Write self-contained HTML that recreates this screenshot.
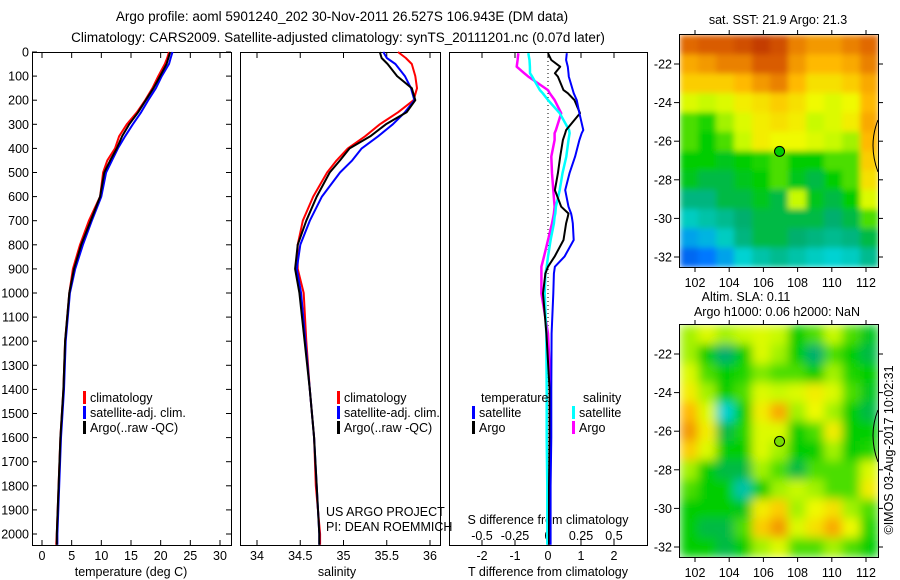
<!DOCTYPE html>
<html><head><meta charset="utf-8"><style>
html,body{margin:0;padding:0;background:#fff;}
svg{display:block;font-family:"Liberation Sans",sans-serif;}
text{font-size:12.5px;fill:#000;}
</style></head><body>
<svg id="c" width="900" height="580" viewBox="0 0 900 580">
<defs>
<filter id="blr-sst-map" x="-5%" y="-5%" width="110%" height="110%"><feGaussianBlur stdDeviation="3" edgeMode="duplicate"/></filter>
<filter id="blr-sla-map" x="-5%" y="-5%" width="110%" height="110%"><feGaussianBlur stdDeviation="5" edgeMode="duplicate"/></filter>
<clipPath id="clipTop"><rect x="680" y="35" width="198" height="232"/></clipPath>
<clipPath id="clipBot"><rect x="680" y="325" width="198" height="232"/></clipPath>
</defs>
<text x="342" y="21" text-anchor="middle" style="font-size:13.5px">Argo profile: aoml 5901240_202 30-Nov-2011 26.527S 106.943E (DM data)</text>
<text x="338" y="42" text-anchor="middle" style="font-size:13.5px">Climatology: CARS2009. Satellite-adjusted climatology: synTS_20111201.nc (0.07d later)</text>
<text x="778" y="24" text-anchor="middle">sat. SST: 21.9 Argo: 21.3</text>
<text x="746" y="301" text-anchor="middle">Altim. SLA: 0.11</text>
<text x="777" y="316" text-anchor="middle">Argo h1000: 0.06 h2000: NaN</text>
<text transform="translate(893,450) rotate(-90)" text-anchor="middle">©IMOS 03-Aug-2017 10:02:31</text>
<g id="g"></g>
</svg>
<script>
// ---------- data ----------
const depthTicks=[0,100,200,300,400,500,600,700,800,900,1000,1100,1200,1300,1400,1500,1600,1700,1800,1900,2000];
const tempTicks=[0,5,10,15,20,25,30];
const salTicks=[34,34.5,35,35.5,36];
const tdTicks=[-2,-1,0,1,2];
const sdTicks=[-0.5,-0.25,0,0.25,0.5];
const sdTickLabels=["-0.5","-0.25","0","0.25","0.5"];
const profDepths=[0,25,50,100,150,200,250,300,350,400,450,500,600,700,800,900,1000,1200,1400,1600,1800,2000,2045];
const tempClim=[21.4,21.1,20.7,19.6,18.6,17.4,16.0,14.3,13.0,12.3,11.0,10.3,9.8,7.9,6.4,5.2,4.6,3.9,3.6,3.1,2.8,2.5,2.4];
const tempSat=[22.0,21.7,21.4,20.2,19.2,17.9,16.7,15.3,14.0,12.8,11.8,10.8,10.0,8.4,6.9,5.6,4.7,4.0,3.7,3.2,2.9,2.6,2.6];
const tempArgo=[21.6,21.3,21.0,19.9,18.8,17.5,16.2,14.7,13.5,12.6,11.5,10.5,9.8,8.2,6.6,5.4,4.6,3.9,3.6,3.1,2.8,2.5,2.5];
const salClim=[35.63,35.72,35.79,35.83,35.85,35.81,35.63,35.42,35.25,35.05,34.92,34.81,34.65,34.53,34.47,34.47,34.54,34.57,34.61,34.66,34.68,34.73,34.73];
const salSat=[35.46,35.50,35.60,35.71,35.78,35.82,35.71,35.57,35.40,35.21,35.10,34.96,34.75,34.61,34.50,34.46,34.51,34.56,34.61,34.66,34.69,34.72,34.72];
const salArgo=[35.42,35.44,35.51,35.62,35.79,35.83,35.73,35.49,35.31,35.07,34.96,34.84,34.69,34.57,34.47,34.44,34.49,34.55,34.61,34.66,34.69,34.72,34.72];
const diffDepths=[5,33,61,88,102,158,171,199,254,324,337,365,434,503,573,642,670,684,711,780,849,891,919,1002,1168,1400,1600,1800,2045];
const tDiffSat=[0.57,0.55,0.6,0.62,0.63,0.75,0.78,0.87,0.95,1.07,1.02,0.95,0.82,0.65,0.52,0.62,0.7,0.72,0.75,0.78,0.5,0.21,0.18,0.16,0.11,0.1,0.1,0.08,0.08];
const tDiffArgo=[0,0.1,0.37,0.21,0.3,0.47,0.6,0.8,0.97,0.55,0.52,0.45,0.37,0.3,0.21,0.4,0.62,0.6,0.55,0.47,0.2,0,-0.08,-0.15,-0.05,0.05,0.05,0.03,0.03];
const sDiffSat=[-0.149,-0.14,-0.137,-0.136,-0.12,-0.061,-0.04,0,0.0885,0.16,0.164,0.155,0.139,0.11,0.0884,0.06,0.055,0.05,0.045,0.02,0,-0.01,-0.02,-0.025,-0.013,-0.01,-0.01,-0.005,-0.005];
const sDiffArgo=[-0.225,-0.23,-0.237,-0.18,-0.149,0,0.013,0.05,0.1,0.06,0.05,0.05,0.025,0.03,0.04,0.05,0.045,0.04,0.03,0,-0.03,-0.05,-0.05,-0.05,0,0.02,0.02,0.01,0.01];
const sstGrid=[
[0.88,0.9,0.9,0.92,0.95,0.92,0.85,0.82,0.82,0.85,0.88],
[0.8,0.82,0.85,0.85,0.9,0.9,0.82,0.78,0.78,0.8,0.85],
[0.75,0.75,0.75,0.78,0.82,0.85,0.78,0.72,0.72,0.75,0.8],
[0.65,0.62,0.65,0.7,0.72,0.75,0.72,0.68,0.65,0.68,0.78],
[0.55,0.52,0.6,0.65,0.7,0.72,0.7,0.62,0.65,0.7,0.8],
[0.55,0.5,0.55,0.62,0.7,0.68,0.68,0.65,0.62,0.6,0.78],
[0.5,0.5,0.48,0.5,0.52,0.55,0.5,0.5,0.55,0.55,0.75],
[0.48,0.45,0.45,0.48,0.5,0.55,0.48,0.45,0.5,0.55,0.72],
[0.4,0.4,0.45,0.45,0.48,0.45,0.62,0.48,0.45,0.5,0.65],
[0.32,0.35,0.38,0.42,0.45,0.45,0.45,0.45,0.42,0.45,0.55],
[0.22,0.25,0.32,0.4,0.45,0.45,0.42,0.4,0.38,0.4,0.45],
[0.12,0.15,0.22,0.3,0.35,0.38,0.35,0.32,0.3,0.32,0.38]];
const slaGrid=[
[0.6,0.65,0.6,0.62,0.65,0.62,0.5,0.55,0.62,0.55,0.48],
[0.6,0.5,0.42,0.5,0.65,0.6,0.5,0.42,0.55,0.5,0.45],
[0.65,0.55,0.5,0.52,0.58,0.55,0.55,0.5,0.6,0.52,0.5],
[0.7,0.6,0.5,0.55,0.65,0.62,0.65,0.7,0.65,0.55,0.48],
[0.78,0.65,0.3,0.5,0.7,0.8,0.6,0.68,0.6,0.5,0.45],
[0.82,0.7,0.45,0.52,0.65,0.65,0.5,0.55,0.7,0.5,0.5],
[0.75,0.65,0.5,0.5,0.65,0.6,0.5,0.5,0.6,0.5,0.52],
[0.6,0.5,0.45,0.45,0.6,0.55,0.45,0.55,0.55,0.55,0.65],
[0.55,0.5,0.5,0.35,0.5,0.6,0.62,0.6,0.55,0.55,0.7],
[0.5,0.5,0.5,0.48,0.7,0.75,0.6,0.68,0.72,0.6,0.55],
[0.5,0.45,0.45,0.55,0.75,0.82,0.65,0.72,0.8,0.68,0.52],
[0.5,0.5,0.45,0.5,0.6,0.65,0.55,0.55,0.6,0.55,0.5]];
const lonTicks=[102,104,106,108,110,112];
const latTicks=[-22,-24,-26,-28,-30,-32];
const argoLon=106.943, argoLat=-26.527;

// ---------- axes ----------
const NS="http://www.w3.org/2000/svg";
const G=document.getElementById('g');
function yD(d){return 52+d*0.241;}
function xT(t){return 42+t*5.933;}
function xS(s){return 257+(s-34)*86.5;}
function xDT(t){return 548+t*33;}
function xDS(s){return 548+s*132;}
function lonX(l){return 695+(l-102)*17.1;}
function latY(l,top){return top+63+(-22-l)*19.3;}
function mk(tag,at,parent){const e=document.createElementNS(NS,tag);for(const k in at)e.setAttribute(k,at[k]);(parent||G).appendChild(e);return e;}

const panels=[[32,231,'temperature-panel'],[240,440,'salinity-panel'],[449,647,'difference-panel']];
panels.forEach(p=>{
  const r=mk('rect',{x:p[0]+0.5,y:52.5,width:p[1]-p[0],height:493,fill:'none',stroke:'#000'});
  
  
});
depthTicks.forEach(d=>{
  const y=yD(d);
  const t=mk('text',{x:29,y:y+4.5,'text-anchor':'end'});t.textContent=d;
  
  
  mk('line',{x1:32,x2:37,y1:y,y2:y,stroke:'#000'});
  mk('line',{x1:226,x2:231,y1:y,y2:y,stroke:'#000'});
});
function xTicks(vals,labels,fx,name){
  vals.forEach((v,i)=>{
    const x=fx(v);
    mk('line',{x1:x,x2:x,y1:53,y2:58,stroke:'#000'});
    mk('line',{x1:x,x2:x,y1:540,y2:545,stroke:'#000'});
    const t=mk('text',{x:x,y:560,'text-anchor':'middle'});t.textContent=labels[i];
    
    
  });
}
xTicks(tempTicks,tempTicks,xT,'temperature-tick-label');
xTicks(salTicks,salTicks,xS,'salinity-tick-label');
xTicks(tdTicks,tdTicks,xDT,'t-diff-tick-label');
sdTicks.forEach((v,i)=>{
  const t=mk('text',{x:xDS(v),y:540,'text-anchor':'middle'});t.textContent=sdTickLabels[i];
  
  
});
function label(x,y,s,name,anchor){const t=mk('text',{x:x,y:y,'text-anchor':anchor||'start'});t.textContent=s;
  
  return t;}
label(131,576,'temperature (deg C)','x-axis-title-temperature','middle');
label(337,576,'salinity','x-axis-title-salinity','middle');
label(548,576,'T difference from climatology','x-axis-title-t-diff','middle');
label(548,524,'S difference from climatology','x-axis-title-s-diff','middle');
label(326,516,'US ARGO PROJECT','project-note');
label(326,531,'PI: DEAN ROEMMICH','pi-note');
const z=mk('line',{x1:548,x2:548,y1:53,y2:545,stroke:'#000','stroke-dasharray':'1,3'});



function series(xs,fx,col,name,w){
  const pts=profDepths.length===xs.length?profDepths:diffDepths;
  const d=xs.map((v,i)=>(i?'L':'M')+fx(v).toFixed(1)+','+yD(pts[i]).toFixed(1)).join('');
  const p=mk('path',{d:d,fill:'none',stroke:col,'stroke-width':w||2,'stroke-linejoin':'round'});
  
  
}
series(tempClim,xT,'#f00','temp-climatology-line');
series(tempSat,xT,'#00f','temp-satellite-line');
series(tempArgo,xT,'#000','temp-argo-line');
series(salClim,xS,'#f00','sal-climatology-line');
series(salSat,xS,'#00f','sal-satellite-line');
series(salArgo,xS,'#000','sal-argo-line');
series(sDiffArgo,xDS,'#f0f','s-diff-argo-line',2.5);
series(sDiffSat,xDS,'#0ff','s-diff-satellite-line',2.5);
series(tDiffArgo,xDT,'#000','t-diff-argo-line',2);
series(tDiffSat,xDT,'#00f','t-diff-satellite-line',2);

function legEntry(x,y,col,s,name){
  mk('rect',{x:x,y:y-11,width:3,height:13,fill:col});
  label(x+7,y,s,name);
}
[[83,'leg1'],[337,'leg2']].forEach(L=>{
  legEntry(L[0],402,'#f00','climatology',L[1]+'-climatology');
  legEntry(L[0],417,'#00f','satellite-adj. clim.',L[1]+'-satellite');
  legEntry(L[0],432,'#000','Argo(..raw -QC)',L[1]+'-argo');
});
label(481,402,'temperature','legend-temperature-heading');
label(583,402,'salinity','legend-salinity-heading');
legEntry(472,417,'#00f','satellite','legend-t-satellite');
legEntry(472,432,'#000','Argo','legend-t-argo');
legEntry(572,417,'#0ff','satellite','legend-s-satellite');
legEntry(572,432,'#f0f','Argo','legend-s-argo');

const stops=[[0,[0,40,190]],[0.15,[0,120,255]],[0.3,[0,210,210]],[0.42,[0,175,110]],[0.5,[0,205,0]],[0.56,[90,225,0]],[0.62,[200,250,0]],[0.68,[240,250,0]],[0.78,[255,185,0]],[0.88,[225,105,0]],[1,[175,30,0]]];
function cmap(v){for(let i=1;i<stops.length;i++){if(v<=stops[i][0]){const a=stops[i-1],b=stops[i],f=(v-a[0])/(b[0]-a[0]);return 'rgb('+a[1].map((c,k)=>Math.round(c+(b[1][k]-c)*f)).join(',')+')';}}return 'rgb(175,30,0)';}
function drawMap(grid,top,clip,name){
  const outer=mk('g',{'clip-path':'url(#'+clip+')'});
  
  
  const inner=mk('g',{filter:'url(#blr-'+name+')'},outer);
  const cw=198/grid[0].length, ch=232/grid.length;
  grid.forEach((row,r)=>row.forEach((v,c)=>{
    const cell=mk('rect',{x:680+c*cw,y:top+r*ch,width:cw+0.6,height:ch+0.6,fill:cmap(v)},inner);
    
    
  }));
  mk('path',{d:`M878,${top+85} Q868,${top+110} 878,${top+137}`,fill:'none',stroke:'#000','stroke-width':1});
  mk('rect',{x:679.5,y:top-0.5,width:199,height:233,fill:'none',stroke:'#000'});
  lonTicks.forEach(l=>{const x=lonX(l);
    mk('line',{x1:x,x2:x,y1:top-5,y2:top,stroke:'#000'});
    mk('line',{x1:x,x2:x,y1:top+232,y2:top+237,stroke:'#000'});
    const t=mk('text',{x:x,y:top+252,'text-anchor':'middle'});t.textContent=l;
    
    
  });
  latTicks.forEach(l=>{const y=latY(l,top-34);
    mk('line',{x1:674,x2:679,y1:y,y2:y,stroke:'#000'});
    mk('line',{x1:878,x2:883,y1:y,y2:y,stroke:'#000'});
    const t=mk('text',{x:672,y:y+4.5,'text-anchor':'end'});t.textContent=l;
    
    
  });
  const m=mk('circle',{cx:lonX(argoLon),cy:latY(argoLat,top-34),r:5,fill:name==='sst-map'?'#0c0':'#7d0',stroke:'#000'});
  
  
}
drawMap(sstGrid,35,'clipTop','sst-map');
drawMap(slaGrid,325,'clipBot','sla-map');
</script>
</body></html>
